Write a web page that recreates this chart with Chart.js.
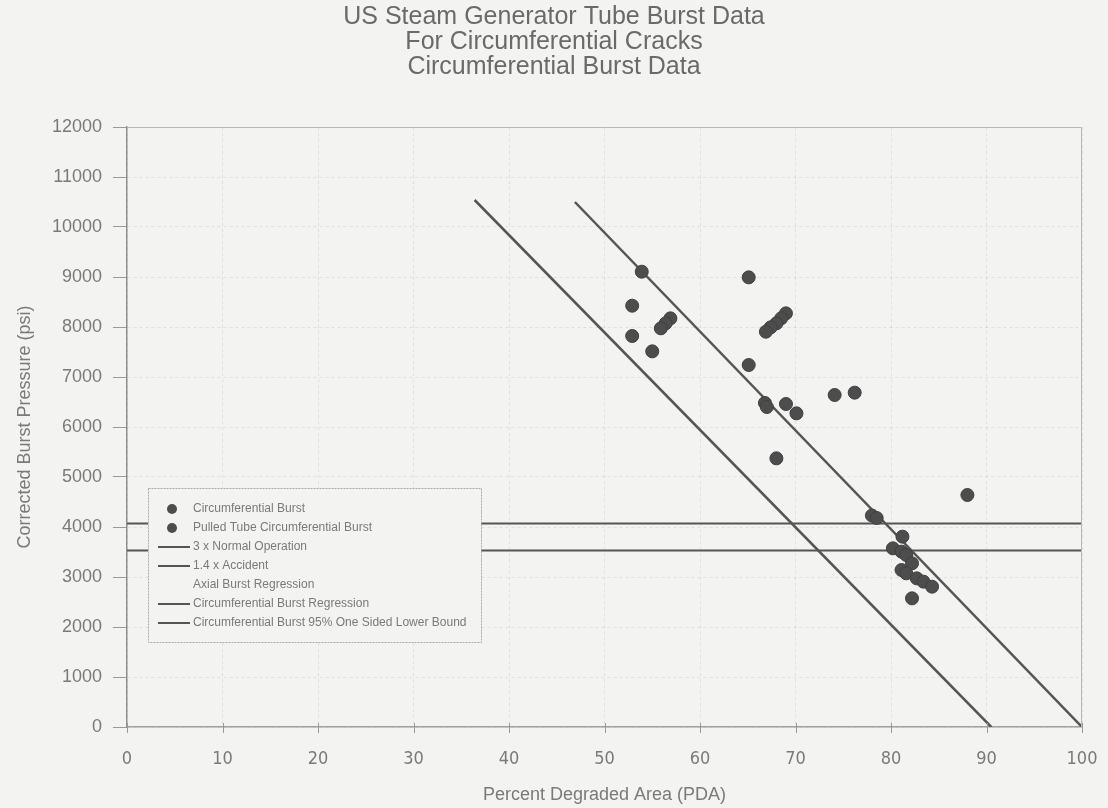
<!DOCTYPE html>
<html>
<head>
<meta charset="utf-8">
<script src="https://cdn.jsdelivr.net/npm/chart.js@4.4.1/dist/chart.umd.min.js"></script>
<style>
  html, body { margin: 0; padding: 0; background: #f3f3f1; }
  canvas { display: block; }
</style>
</head>
<body>
<canvas id="chart" width="1108" height="808"></canvas>
<script>
// datos
const burstPda = [53.9, 52.9, 56.9, 56.4, 55.9, 52.9, 55.0, 69.0, 68.5, 68.0, 67.4, 66.9, 65.1,
  66.8, 67.0, 69.0, 70.1, 68.0, 78.0, 78.5, 81.2, 80.2, 81.1, 81.6, 82.2, 81.1, 81.6, 82.7, 83.4, 84.3, 82.2];
const burstPsi = [9106, 8426, 8173, 8073, 7973, 7820, 7513, 8273, 8173, 8073, 7993, 7906, 7240,
  6480, 6400, 6460, 6273, 5373, 4230, 4180, 3807, 3573, 3507, 3440, 3273, 3140, 3073, 2973, 2907, 2807, 2573];

const pulledPda = [65.1, 74.1, 76.2, 88.0];
const pulledPsi = [8993, 6640, 6687, 4640];

const normalOpPsi = 4070;    // 3 x Normal Operation
const accidentPsi = 3530;    // 1.4 x Accident

const regressionPda = [46.9, 100];
const regressionPsi = [10500, 0];
const lowerBoundPda = [36.4, 90.5];
const lowerBoundPsi = [10540, 0];

const xTicks = [0, 10, 20, 30, 40, 50, 60, 70, 80, 90, 100];
const yMax = 12000;

const toPoints = (xs, ys) => xs.map((x, i) => ({ x: x, y: ys[i] }));
const flat = (v) => [{ x: xTicks[0], y: v }, { x: xTicks[xTicks.length - 1], y: v }];

const ink = '#555555';
const textGray = '#7a7a7a';

Chart.defaults.font.family = '"Liberation Sans", Arial, sans-serif';
Chart.defaults.color = textGray;

const pointStyle = {
  showLine: false,
  pointRadius: 6.5,
  pointHoverRadius: 6.5,
  pointBackgroundColor: '#4d4d4d',
  pointBorderColor: '#404040',
  pointBorderWidth: 1,
  order: 0
};
const lineStyle = {
  showLine: true,
  pointRadius: 0,
  borderColor: ink,
  borderWidth: 2.5,
  fill: false,
  order: 1
};

const datasets = [
  Object.assign({ label: 'Circumferential Burst', data: toPoints(burstPda, burstPsi) }, pointStyle),
  Object.assign({ label: 'Pulled Tube Circumferential Burst', data: toPoints(pulledPda, pulledPsi) }, pointStyle),
  Object.assign({ label: '3 x Normal Operation', data: flat(normalOpPsi) }, lineStyle, { borderWidth: 2 }),
  Object.assign({ label: '1.4 x Accident', data: flat(accidentPsi) }, lineStyle, { borderWidth: 2 }),
  Object.assign({ label: 'Axial Burst Regression', data: [] }, lineStyle, { borderWidth: 0 }),
  Object.assign({ label: 'Circumferential Burst Regression', data: toPoints(regressionPda, regressionPsi) }, lineStyle),
  Object.assign({ label: 'Circumferential Burst 95% One Sided Lower Bound', data: toPoints(lowerBoundPda, lowerBoundPsi) }, lineStyle)
];

// fondo, marco del area, marcas cortas del eje x y leyenda dentro del grafico
const framePlugin = {
  id: 'frame',
  beforeDraw(chart) {
    const ctx = chart.ctx;
    ctx.save();
    ctx.fillStyle = '#f3f3f1';
    ctx.fillRect(0, 0, chart.width, chart.height);
    ctx.restore();
  },
  afterDraw(chart) {
    const ctx = chart.ctx;
    const a = chart.chartArea;
    const xs = chart.scales.x;
    ctx.save();
    ctx.strokeStyle = '#b8b8b8';
    ctx.lineWidth = 1;
    ctx.beginPath();
    ctx.moveTo(a.left, a.top + 0.5);
    ctx.lineTo(a.right - 0.5, a.top + 0.5);
    ctx.lineTo(a.right - 0.5, a.bottom);
    ctx.stroke();

    ctx.strokeStyle = '#9a9a9a';
    ctx.beginPath();
    xTicks.forEach(v => {
      const px = Math.round(xs.getPixelForValue(v)) + 0.5;
      ctx.moveTo(px, a.bottom - 4);
      ctx.lineTo(px, a.bottom + 6);
    });
    ctx.stroke();

    // leyenda
    const bx = a.left + 21, by = a.top + 361, bw = 333, bh = 154;
    ctx.fillStyle = '#f3f3f1';
    ctx.fillRect(bx, by, bw, bh);
    ctx.strokeStyle = '#a8a8a8';
    ctx.setLineDash([2, 1]);
    ctx.strokeRect(bx + 0.5, by + 0.5, bw, bh);
    ctx.setLineDash([]);
    ctx.font = '12px "Liberation Sans", Arial, sans-serif';
    ctx.textBaseline = 'middle';
    chart.data.datasets.forEach((ds, i) => {
      const y = by + 21 + i * 19;
      if (!ds.showLine) {
        ctx.fillStyle = ds.pointBackgroundColor;
        ctx.beginPath();
        ctx.arc(bx + 24, y, 5, 0, Math.PI * 2);
        ctx.fill();
      } else if (ds.borderWidth > 0) {
        ctx.strokeStyle = ds.borderColor;
        ctx.lineWidth = 2;
        ctx.beginPath();
        ctx.moveTo(bx + 10, y);
        ctx.lineTo(bx + 42, y);
        ctx.stroke();
      }
      ctx.fillStyle = textGray;
      ctx.fillText(ds.label, bx + 45, y);
    });
    ctx.restore();
  }
};

new Chart(document.getElementById('chart').getContext('2d'), {
  type: 'scatter',
  data: { datasets: datasets },
  plugins: [framePlugin],
  options: {
    responsive: false,
    animation: false,
    layout: { padding: 0 },
    plugins: {
      legend: { display: false },
      tooltip: { enabled: false },
      title: {
        display: true,
        text: ['US Steam Generator Tube Burst Data', 'For Circumferential Cracks', 'Circumferential Burst Data'],
        color: '#6a6a6a',
        font: { size: 25, weight: 'normal', lineHeight: 1.0 },
        padding: { top: 5, bottom: 47 }
      }
    },
    scales: {
      x: {
        type: 'linear',
        min: xTicks[0],
        max: xTicks[xTicks.length - 1],
        afterBuildTicks: (s) => { s.ticks = xTicks.map(v => ({ value: v })); },
        afterFit: (s) => { s.height = 81; },
        ticks: {
          color: textGray,
          padding: 4,
          font: { family: '"Liberation Sans Narrow", "DejaVu Sans Condensed", sans-serif', size: 18 }
        },
        grid: { color: 'rgba(0,0,0,0.08)', tickLength: 18, tickColor: 'rgba(0,0,0,0)' },
        border: { color: '#a0a0a0', width: 1.5, dash: [3, 3] },
        title: {
          display: true,
          text: 'Percent Degraded Area (PDA)',
          color: textGray,
          font: { size: 18 },
          padding: { top: 0, bottom: 2 }
        }
      },
      y: {
        min: 0,
        max: yMax,
        afterFit: (s) => { s.width = 127; },
        ticks: {
          stepSize: 1000,
          color: textGray,
          padding: 11,
          font: { size: 18 },
          callback: (v) => String(v)
        },
        grid: { color: 'rgba(0,0,0,0.08)', tickLength: 14, tickColor: '#9a9a9a' },
        border: { color: '#909090', width: 1.5, dash: [3, 3] },
        title: {
          display: true,
          text: 'Corrected Burst Pressure (psi)',
          color: textGray,
          font: { size: 18 },
          padding: { top: 14, bottom: 0 }
        }
      },
      // espacio a la derecha sin dibujar nada
      yRight: {
        position: 'right',
        min: 0,
        max: yMax,
        afterFit: (s) => { s.width = 26; },
        ticks: { display: false },
        grid: { drawOnChartArea: false, drawTicks: false },
        border: { display: false }
      }
    }
  }
});
</script>
</body>
</html>
